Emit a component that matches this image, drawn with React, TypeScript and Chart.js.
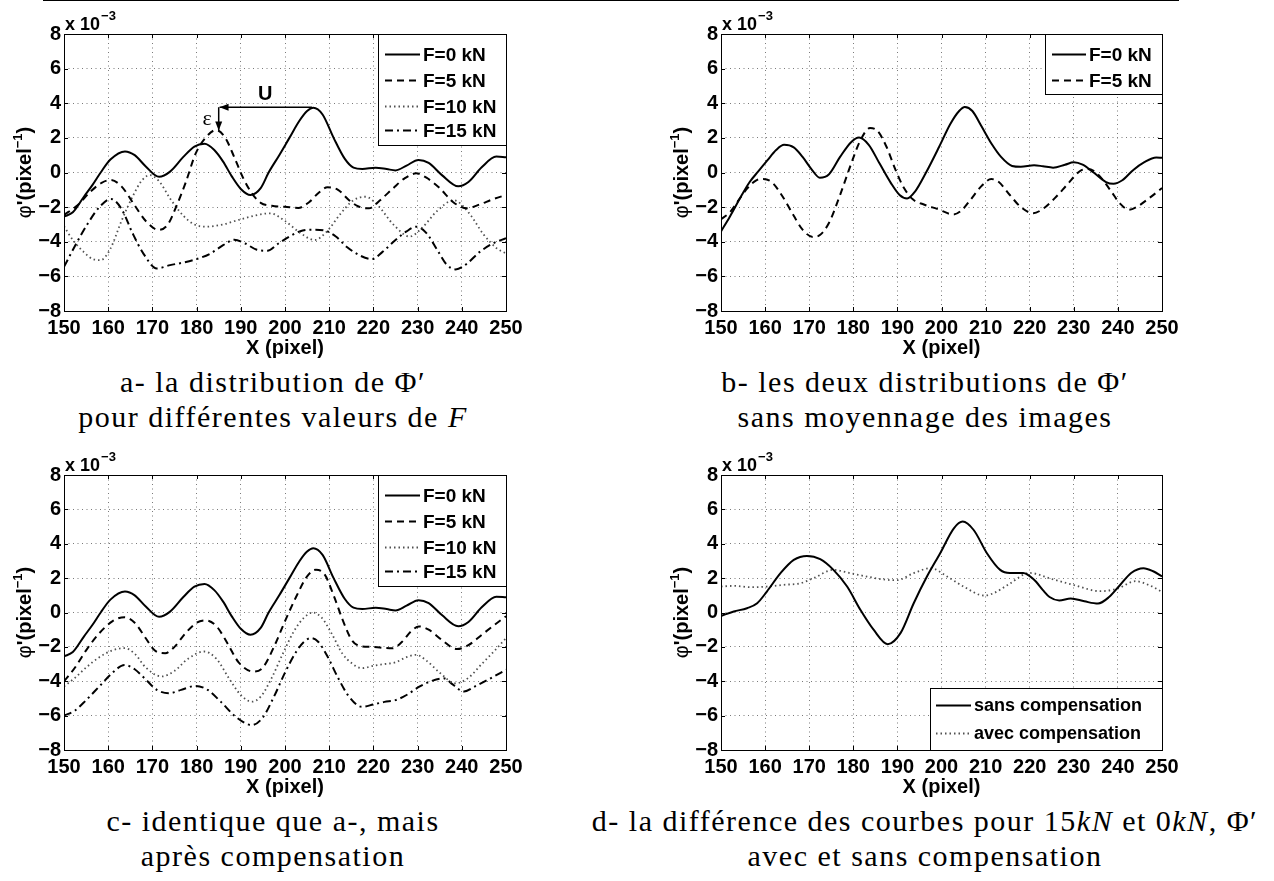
import React, { useEffect, useRef } from "react";
import { Chart, registerables } from "chart.js";

Chart.register(...registerables);

type Pt = [number, number];

// ---------- axes ----------
const X_MIN = 150;
const X_MAX = 250;
const X_TICKS = [150, 160, 170, 180, 190, 200, 210, 220, 230, 240, 250];
const Y_MIN = -8;
const Y_MAX = 8;
const Y_TICKS = [-8, -6, -4, -2, 0, 2, 4, 6, 8];
const Y_EXPONENT = "−3";
const X_TITLE = "X (pixel)";

// ---------- data (values in units of 1e-3 pixel^-1) ----------
// a- / c- : F = 0 kN
const A_F0: Pt[] = [
  [150, -2.55], [152, -2.3], [154.5, -1.4], [156.5, -0.7], [158.3, 0], [160.5, 0.75],
  [163.8, 1.22], [166, 1.0], [168.5, 0.35], [171.5, -0.25], [174, 0.05], [177, 0.9],
  [179.5, 1.5], [181.8, 1.66], [184, 1.3], [186, 0.63], [188, -0.24], [190, -0.95],
  [192.2, -1.3], [194.5, -0.9], [196.3, 0], [198.7, 1.0], [201, 2.0], [203.3, 3.0],
  [205, 3.55], [206.4, 3.74], [208.5, 3.35], [211, 2.0], [213.5, 0.8], [215.5, 0.28],
  [217.5, 0.2], [220.5, 0.28], [223, 0.2], [225, 0.12], [227.5, 0.4], [230.2, 0.72],
  [232.5, 0.55], [235.5, -0.15], [239.2, -0.8], [241.5, -0.55], [244.5, 0.3],
  [247.8, 0.92], [250, 0.88],
];
// a- : F = 5 kN
const A_F5: Pt[] = [
  [150, -2.45], [153, -1.9], [156, -1.1], [158.5, -0.6], [160.6, -0.43], [163, -0.8],
  [166, -1.9], [168.5, -2.8], [171.4, -3.32], [173.5, -3.0], [175.5, -1.9], [177.5, -0.6],
  [179.8, 1.1], [182, 2.0], [184.4, 2.45], [186.5, 2.0], [188.5, 0.9], [190.5, -0.3],
  [192.5, -1.2], [194.5, -1.75], [197, -1.92], [200, -1.98], [203, -2.05], [205.5, -1.7],
  [207.5, -1.2], [209.6, -0.85], [212, -1.0], [214.5, -1.6], [216.5, -1.95], [219, -2.07],
  [221.5, -1.6], [224.5, -0.9], [227, -0.35], [229.7, -0.05], [232, -0.3], [235, -0.9],
  [238, -1.7], [241.2, -2.07], [244, -1.85], [247, -1.55], [250, -1.3],
];
// a- : F = 10 kN
const A_F10: Pt[] = [
  [150, -3.1], [152, -3.9], [154.5, -4.6], [156.5, -5.0], [158.3, -5.06], [160.5, -4.4],
  [163, -2.8], [165.5, -1.4], [167.5, -0.5], [169.4, -0.15], [171.5, -0.5], [174, -1.5],
  [177, -2.5], [179.5, -3.0], [182.1, -3.13], [186, -3.0], [190, -2.7], [196.7, -2.36],
  [200, -2.8], [203.5, -3.5], [206.7, -3.9], [209.5, -3.4], [212.5, -2.4], [215.5, -1.6],
  [218.2, -1.4], [221, -1.9], [224.5, -3.0], [228.2, -3.7], [231, -3.2], [234.5, -2.2],
  [238.2, -1.6], [241.5, -2.3], [245, -3.6], [248, -4.4], [250, -4.67],
];
// a- : F = 15 kN
const A_F15: Pt[] = [
  [150, -5.45], [153, -4.0], [155.5, -2.9], [158, -2.0], [160.6, -1.53], [163, -2.1],
  [165.5, -3.5], [168, -4.7], [171, -5.54], [174, -5.35], [177, -5.2], [180, -5.0],
  [183, -4.7], [186, -4.2], [188.5, -3.88], [191, -4.1], [193.5, -4.45], [196, -4.52],
  [198.5, -4.1], [201, -3.7], [204, -3.35], [206.5, -3.3], [209, -3.35], [211.5, -3.7],
  [214, -4.3], [217, -4.8], [219.7, -5.0], [222, -4.6], [225, -3.9], [227.5, -3.4],
  [229.7, -3.13], [232, -3.5], [234.5, -4.5], [236.5, -5.3], [238.6, -5.6], [241, -5.3],
  [244, -4.6], [247, -4.1], [250, -3.8],
];

// b- : without image averaging
const B_F0: Pt[] = [
  [150, -3.4], [152, -2.55], [154.5, -1.4], [156.5, -0.55], [158.4, 0.05], [160.5, 0.7],
  [162.5, 1.3], [164.3, 1.6], [166.5, 1.45], [168.5, 0.9], [170.5, 0.2], [172.4, -0.3],
  [174.5, -0.1], [177, 0.9], [179.5, 1.75], [181.3, 2.02], [183.5, 1.6], [186, 0.5],
  [188.5, -0.6], [190.5, -1.3], [192.2, -1.5], [194, -1.1], [196.5, 0.0], [199.5, 1.5],
  [202, 2.8], [204, 3.55], [205.3, 3.78], [207, 3.55], [209, 2.7], [211.5, 1.6],
  [213.5, 0.9], [216, 0.38], [218, 0.33], [221, 0.42], [223, 0.36], [225.3, 0.28],
  [228, 0.45], [230, 0.59], [232, 0.45], [234.5, 0.0], [237.3, -0.55], [239, -0.65],
  [241, -0.45], [243.5, 0.15], [246, 0.6], [248.7, 0.87], [250, 0.85],
];
const B_F5: Pt[] = [
  [150, -2.7], [152, -2.3], [154, -1.6], [156, -0.9], [158, -0.45], [159.6, -0.37],
  [161.5, -0.55], [164, -1.4], [166.5, -2.5], [168.5, -3.3], [170.8, -3.72], [172.5, -3.6],
  [174.5, -2.9], [177, -1.3], [179.5, 0.5], [181.5, 1.8], [183.8, 2.57], [185.5, 2.4],
  [187.5, 1.5], [189.5, 0.2], [191.5, -0.9], [193.5, -1.55], [196, -1.85], [199, -2.1],
  [202.7, -2.42], [204.5, -2.2], [206.5, -1.6], [209, -0.8], [211.3, -0.38], [213, -0.55],
  [215.5, -1.3], [218, -2.0], [220.8, -2.35], [223, -2.1], [226, -1.4], [228.5, -0.7],
  [231.5, 0.1], [233, 0.2], [234.5, 0.1], [236.5, -0.4], [238.5, -1.1], [240.5, -1.8],
  [242.5, -2.15], [244.5, -1.95], [247, -1.5], [250, -0.9],
];

// c- : after compensation
const C_F0: Pt[] = A_F0;
const C_F5: Pt[] = [
  [150, -4.0], [152.5, -3.2], [155, -2.2], [158, -1.2], [161, -0.5], [163.7, -0.27],
  [166, -0.6], [168.5, -1.5], [170.5, -2.2], [172.9, -2.37], [175, -2.0], [177.5, -1.2],
  [180, -0.6], [182.1, -0.46], [184.5, -0.8], [187, -1.8], [189.5, -2.9], [192.9, -3.44],
  [195, -3.2], [197.5, -2.0], [200, -0.5], [202.5, 0.9], [205, 2.1], [207, 2.49],
  [209, 2.2], [211, 1.0], [213, -0.4], [215.1, -1.6], [217, -1.95], [219.5, -2.0],
  [222, -2.05], [224.3, -2.08], [226.5, -1.7], [228.5, -1.1], [230.3, -0.81], [232.5, -1.0],
  [235.5, -1.6], [238.9, -2.13], [241.5, -1.9], [244.5, -1.3], [247.5, -0.7], [250, -0.22],
];
const C_F10: Pt[] = [
  [150, -4.3], [152.5, -3.8], [155, -3.2], [158, -2.6], [161, -2.2], [163.7, -2.07],
  [166, -2.4], [168.5, -3.2], [172.1, -3.72], [175, -3.4], [178, -2.7], [181.7, -2.27],
  [184.5, -2.7], [187.5, -3.9], [190, -4.8], [192.5, -5.19], [194.5, -4.9], [197, -3.8],
  [199.5, -2.4], [202, -1.1], [204.3, -0.3], [206.3, 0.0], [208.3, -0.3], [210.5, -1.2],
  [213, -2.4], [215.1, -2.95], [217.4, -3.24], [220, -3.1], [222.5, -3.0], [225, -2.9],
  [227.5, -2.6], [229.7, -2.46], [232, -2.8], [235, -3.5], [238.6, -4.12], [241.5, -3.8],
  [244.5, -3.0], [247.5, -2.2], [250, -1.49],
];
const C_F15: Pt[] = [
  [150, -6.0], [152.5, -5.7], [155, -5.1], [158, -4.3], [161, -3.5], [163.7, -3.05],
  [166, -3.3], [168.5, -3.9], [171, -4.5], [173.7, -4.7], [176.5, -4.5], [179.8, -4.27],
  [182.5, -4.5], [185.5, -5.2], [189, -6.1], [192.5, -6.55], [195, -6.1], [197.5, -4.9],
  [200, -3.5], [202.5, -2.3], [204.3, -1.7], [205.9, -1.49], [207.5, -1.7], [209.5, -2.5],
  [212, -3.8], [214.5, -4.9], [217.4, -5.49], [220, -5.35], [222.5, -5.2], [225, -5.1],
  [227.5, -4.8], [230.5, -4.3], [233, -4.0], [235.9, -3.83], [238, -4.2], [240.5, -4.6],
  [243, -4.3], [246, -3.9], [250, -3.33],
];

// d- : difference 15 kN - 0 kN
const D_SANS: Pt[] = [
  [150, -0.2], [152.9, 0.06], [155.9, 0.25], [158.2, 0.54], [160.4, 1.22], [163.5, 2.29],
  [166.5, 3.06], [169.5, 3.29], [172.5, 3.1], [175.5, 2.48], [178.6, 1.51], [181.6, 0.16],
  [184.6, -1.0], [187.8, -1.84], [190.7, -1.2], [193.7, 0.54], [196.7, 2.09], [199.7, 3.45],
  [202.8, 4.9], [204.8, 5.29], [207.3, 4.8], [210.3, 3.45], [213.3, 2.48], [215.5, 2.3],
  [218.5, 2.3], [221, 1.9], [223, 1.3], [224.5, 0.9], [226.7, 0.7], [229.3, 0.82],
  [232.4, 0.65], [235.5, 0.52], [238, 0.9], [240.5, 1.6], [243, 2.3], [245.8, 2.58],
  [248, 2.4], [250, 2.1],
];
const D_AVEC: Pt[] = [
  [150, 1.51], [153, 1.55], [156.7, 1.47], [160.4, 1.51], [164.2, 1.61], [168, 1.7],
  [171, 2.0], [175.5, 2.48], [179.3, 2.29], [183.1, 2.09], [187.6, 1.9], [189.9, 1.88],
  [193.7, 2.29], [197.5, 2.58], [201.3, 2.09], [205, 1.51], [209.6, 0.99], [211.8, 1.12],
  [215, 1.6], [220, 2.3], [225, 1.95], [230, 1.6], [236, 1.24], [240, 1.4], [244, 1.82],
  [247, 1.6], [250, 1.2],
];

// annotation of panel a (data coordinates)
const ARROW_U: [Pt, Pt] = [[206.1, 3.77], [185.2, 3.77]];
const ARROW_EPS: [Pt, Pt] = [[185.0, 3.77], [185.0, 2.42]];
const LABEL_U: Pt = [195.5, 4.5];
const LABEL_EPS: Pt = [182.4, 3.1];

// ---------- styles ----------
const SANS = '"Liberation Sans", Arial, Helvetica, sans-serif';
const SERIF = '"Liberation Serif", "Times New Roman", serif';

type StyleKey = "solid" | "dashed" | "dotted" | "dashdot";
const STYLES: Record<StyleKey, { dash: number[]; color: string; width: number }> = {
  solid: { dash: [], color: "#000", width: 2 },
  dashed: { dash: [7, 5], color: "#000", width: 2 },
  dotted: { dash: [1.5, 3], color: "#505050", width: 1.8 },
  dashdot: { dash: [8, 4, 2, 4], color: "#000", width: 2 },
};

type Series = { label: string; data: Pt[]; style: StyleKey };
type LegendSpec = {
  anchor: "top" | "bottom";
  w: number;
  h: number;
  rows: number[];
  line: [number, number];
  textX: number;
  font: number;
};
type PanelSpec = {
  L: number; T: number; R: number; B: number;
  series: Series[];
  legend: LegendSpec;
  annotate?: boolean;
};

const PAD_LEFT = 64;
const PAD_TOP = 34;
const PAD_RIGHT = 54;
const PAD_BOTTOM = 49;
const TICK_FONT = 20;

const fmtTick = (v: number) => (v < 0 ? "−" + Math.abs(v) : String(v));

const decorPlugin = {
  id: "decor",
  afterDatasetsDraw(chart: any, _args: any, opts: any) {
    const { ctx, chartArea: ca } = chart;
    const xs = chart.scales.x;
    const ys = chart.scales.y;
    const L = Math.round(ca.left), T = Math.round(ca.top);
    const R = Math.round(ca.right), B = Math.round(ca.bottom);
    ctx.save();
    ctx.setLineDash([]);
    ctx.strokeStyle = "#000";
    ctx.fillStyle = "#000";

    // annotation (panel a)
    if (opts.annotate) {
      ctx.lineWidth = 1.5;
      const arrow = (p0: Pt, p1: Pt) => {
        const x0 = xs.getPixelForValue(p0[0]), y0 = ys.getPixelForValue(p0[1]);
        const x1 = xs.getPixelForValue(p1[0]), y1 = ys.getPixelForValue(p1[1]);
        ctx.beginPath();
        ctx.moveTo(x0, y0);
        ctx.lineTo(x1, y1);
        ctx.stroke();
        const a = Math.atan2(y1 - y0, x1 - x0);
        const l = 9, w = 3.5;
        ctx.beginPath();
        ctx.moveTo(x1, y1);
        ctx.lineTo(x1 - l * Math.cos(a) + w * Math.sin(a), y1 - l * Math.sin(a) - w * Math.cos(a));
        ctx.lineTo(x1 - l * Math.cos(a) - w * Math.sin(a), y1 - l * Math.sin(a) + w * Math.cos(a));
        ctx.closePath();
        ctx.fill();
      };
      arrow(ARROW_U[0], ARROW_U[1]);
      arrow(ARROW_EPS[0], ARROW_EPS[1]);
      ctx.textAlign = "center";
      ctx.textBaseline = "middle";
      ctx.font = `bold 20px ${SANS}`;
      ctx.fillText("U", xs.getPixelForValue(LABEL_U[0]), ys.getPixelForValue(LABEL_U[1]));
      ctx.font = `22px ${SERIF}`;
      ctx.fillText("ε", xs.getPixelForValue(LABEL_EPS[0]), ys.getPixelForValue(LABEL_EPS[1]));
    }

    // axes box
    ctx.lineWidth = 1;
    ctx.strokeRect(L + 0.5, T + 0.5, R - L, B - T);
    // inward ticks on all sides
    ctx.beginPath();
    for (const v of X_TICKS) {
      const x = Math.round(xs.getPixelForValue(v)) + 0.5;
      ctx.moveTo(x, B); ctx.lineTo(x, B - 4);
      ctx.moveTo(x, T); ctx.lineTo(x, T + 4);
    }
    for (const v of Y_TICKS) {
      const y = Math.round(ys.getPixelForValue(v)) + 0.5;
      ctx.moveTo(L, y); ctx.lineTo(L + 4, y);
      ctx.moveTo(R, y); ctx.lineTo(R - 4, y);
    }
    ctx.stroke();

    // exponent "x 10^-3"
    ctx.textAlign = "left";
    ctx.textBaseline = "alphabetic";
    ctx.font = `bold 18px ${SANS}`;
    const base = "x 10";
    ctx.fillText(base, L + 1, T - 4);
    const bw = ctx.measureText(base).width;
    ctx.font = `bold 13px ${SANS}`;
    ctx.fillText(Y_EXPONENT, L + 1 + bw + 1, T - 14);

    // x title
    ctx.textAlign = "center";
    ctx.font = `bold 20px ${SANS}`;
    ctx.fillText(X_TITLE, (L + R) / 2, B + 43);

    // y title  φ'(pixel^-1)
    ctx.save();
    ctx.translate(L - 40, (T + B) / 2);
    ctx.rotate(-Math.PI / 2);
    ctx.textAlign = "left";
    const parts: { t: string; f: string; dy: number }[] = [
      { t: "φ", f: `20px ${SANS}`, dy: 7 },
      { t: "'(pixel", f: `bold 20px ${SANS}`, dy: 7 },
      { t: "−1", f: `bold 13px ${SANS}`, dy: -2 },
      { t: ")", f: `bold 20px ${SANS}`, dy: 7 },
    ];
    let total = 0;
    for (const p of parts) { ctx.font = p.f; total += ctx.measureText(p.t).width; }
    let cx = -total / 2;
    for (const p of parts) {
      ctx.font = p.f;
      ctx.fillText(p.t, cx, p.dy);
      cx += ctx.measureText(p.t).width;
    }
    ctx.restore();

    // legend
    const lg: LegendSpec = opts.legend;
    const bx = R - lg.w;
    const by = lg.anchor === "top" ? T : B - lg.h;
    ctx.fillStyle = "#fff";
    ctx.fillRect(bx, by, lg.w, lg.h);
    ctx.strokeStyle = "#000";
    ctx.lineWidth = 1;
    ctx.strokeRect(Math.round(bx) + 0.5, Math.round(by) + 0.5, Math.round(lg.w), Math.round(lg.h));
    chart.data.datasets.forEach((ds: any, i: number) => {
      const y = Math.round(by + lg.rows[i]) + 0.5;
      ctx.save();
      ctx.setLineDash(ds.borderDash || []);
      ctx.strokeStyle = ds.borderColor;
      ctx.lineWidth = ds.borderWidth;
      ctx.beginPath();
      ctx.moveTo(bx + lg.line[0], y);
      ctx.lineTo(bx + lg.line[1], y);
      ctx.stroke();
      ctx.restore();
      ctx.fillStyle = "#000";
      ctx.font = `bold ${lg.font}px ${SANS}`;
      ctx.textAlign = "left";
      ctx.textBaseline = "middle";
      ctx.fillText(ds.label, bx + lg.textX, y + 1);
    });
    ctx.restore();
  },
};

function Panel({ spec }: { spec: PanelSpec }) {
  const ref = useRef<HTMLCanvasElement | null>(null);
  const width = spec.R - spec.L + PAD_LEFT + PAD_RIGHT;
  const height = spec.B - spec.T + PAD_TOP + PAD_BOTTOM;
  useEffect(() => {
    if (!ref.current) return;
    const chart = new Chart(ref.current, {
      type: "line",
      data: {
        datasets: spec.series.map((s) => ({
          label: s.label,
          data: s.data.map(([x, y]) => ({ x, y })),
          borderColor: STYLES[s.style].color,
          borderWidth: STYLES[s.style].width,
          borderDash: STYLES[s.style].dash,
          borderCapStyle: "butt",
          fill: false,
          pointRadius: 0,
          cubicInterpolationMode: "monotone",
        })),
      },
      options: {
        responsive: false,
        animation: false,
        devicePixelRatio: 1,
        layout: { padding: { left: 0, top: PAD_TOP, right: PAD_RIGHT, bottom: 0 } },
        plugins: {
          legend: { display: false },
          tooltip: { enabled: false },
          decor: { legend: spec.legend, annotate: !!spec.annotate },
        } as any,
        scales: {
          x: {
            type: "linear",
            min: X_MIN,
            max: X_MAX,
            afterFit: (s: any) => { s.height = PAD_BOTTOM; },
            afterBuildTicks: (s: any) => { s.ticks = X_TICKS.map((v) => ({ value: v })); },
            ticks: {
              color: "#000",
              font: { family: SANS, size: TICK_FONT, weight: "bold" },
              padding: 5,
              maxRotation: 0,
              autoSkip: false,
              callback: (v: any) => fmtTick(Number(v)),
            },
            grid: { color: "#7a7a7a", lineWidth: 1, drawTicks: false },
            border: { display: false, dash: [1, 3.5] },
          },
          y: {
            type: "linear",
            min: Y_MIN,
            max: Y_MAX,
            afterFit: (s: any) => { s.width = PAD_LEFT; },
            afterBuildTicks: (s: any) => { s.ticks = Y_TICKS.map((v) => ({ value: v })); },
            ticks: {
              color: "#000",
              font: { family: SANS, size: TICK_FONT, weight: "bold" },
              padding: 3,
              autoSkip: false,
              callback: (v: any) => fmtTick(Number(v)),
            },
            grid: { color: "#7a7a7a", lineWidth: 1, drawTicks: false },
            border: { display: false, dash: [1, 3.5] },
          },
        },
      } as any,
      plugins: [decorPlugin as any],
    });
    return () => chart.destroy();
  }, []);
  return (
    <canvas
      ref={ref}
      width={width}
      height={height}
      style={{
        position: "absolute",
        left: spec.L - PAD_LEFT,
        top: spec.T - PAD_TOP,
        width,
        height,
        display: "block",
      }}
    />
  );
}

const LEGEND_4: LegendSpec = { anchor: "top", w: 128, h: 111, rows: [20, 46, 72, 96], line: [7, 42], textX: 45, font: 19 };
const LEGEND_2: LegendSpec = { anchor: "top", w: 117, h: 60, rows: [19.5, 46], line: [7, 41], textX: 44, font: 19 };
const LEGEND_D: LegendSpec = { anchor: "bottom", w: 232, h: 62, rows: [17, 45], line: [6, 41], textX: 44, font: 18 };

const PANELS: PanelSpec[] = [
  {
    L: 64, T: 34, R: 506, B: 311, annotate: true, legend: LEGEND_4,
    series: [
      { label: "F=0 kN", data: A_F0, style: "solid" },
      { label: "F=5 kN", data: A_F5, style: "dashed" },
      { label: "F=10 kN", data: A_F10, style: "dotted" },
      { label: "F=15 kN", data: A_F15, style: "dashdot" },
    ],
  },
  {
    L: 721, T: 34, R: 1162, B: 311, legend: LEGEND_2,
    series: [
      { label: "F=0 kN", data: B_F0, style: "solid" },
      { label: "F=5 kN", data: B_F5, style: "dashed" },
    ],
  },
  {
    L: 64, T: 475, R: 506, B: 750, legend: LEGEND_4,
    series: [
      { label: "F=0 kN", data: C_F0, style: "solid" },
      { label: "F=5 kN", data: C_F5, style: "dashed" },
      { label: "F=10 kN", data: C_F10, style: "dotted" },
      { label: "F=15 kN", data: C_F15, style: "dashdot" },
    ],
  },
  {
    L: 721, T: 475, R: 1162, B: 750, legend: LEGEND_D,
    series: [
      { label: "sans compensation", data: D_SANS, style: "solid" },
      { label: "avec compensation", data: D_AVEC, style: "dotted" },
    ],
  },
];

const captionBase: React.CSSProperties = {
  position: "absolute",
  width: 800,
  textAlign: "center",
  fontFamily: SERIF,
  fontSize: 30,
  lineHeight: "35px",
  letterSpacing: "1.5px",
  whiteSpace: "nowrap",
  color: "#000",
};

export default function App() {
  return (
    <div
      style={{
        position: "absolute",
        left: 0,
        top: 0,
        width: 1274,
        height: 881,
        overflow: "hidden",
        background: "#fff",
      }}
    >
      <div style={{ position: "absolute", left: 43, top: 0, width: 1136, height: 1, background: "#000" }} />
      {PANELS.map((p, i) => (
        <Panel key={i} spec={p} />
      ))}
      <div style={{ ...captionBase, left: 273 - 400, top: 364 }}>
        a- la distribution de Φ′
        <br />
        pour différentes valeurs de <i>F</i>
      </div>
      <div style={{ ...captionBase, left: 925 - 400, top: 364 }}>
        b- les deux distributions de Φ′
        <br />
        sans moyennage des images
      </div>
      <div style={{ ...captionBase, left: 273 - 400, top: 803 }}>
        c- identique que a-, mais
        <br />
        après compensation
      </div>
      <div style={{ ...captionBase, left: 925 - 400, top: 803 }}>
        d- la différence des courbes pour 15<i>kN</i> et 0<i>kN</i>, Φ′
        <br />
        avec et sans compensation
      </div>
    </div>
  );
}
